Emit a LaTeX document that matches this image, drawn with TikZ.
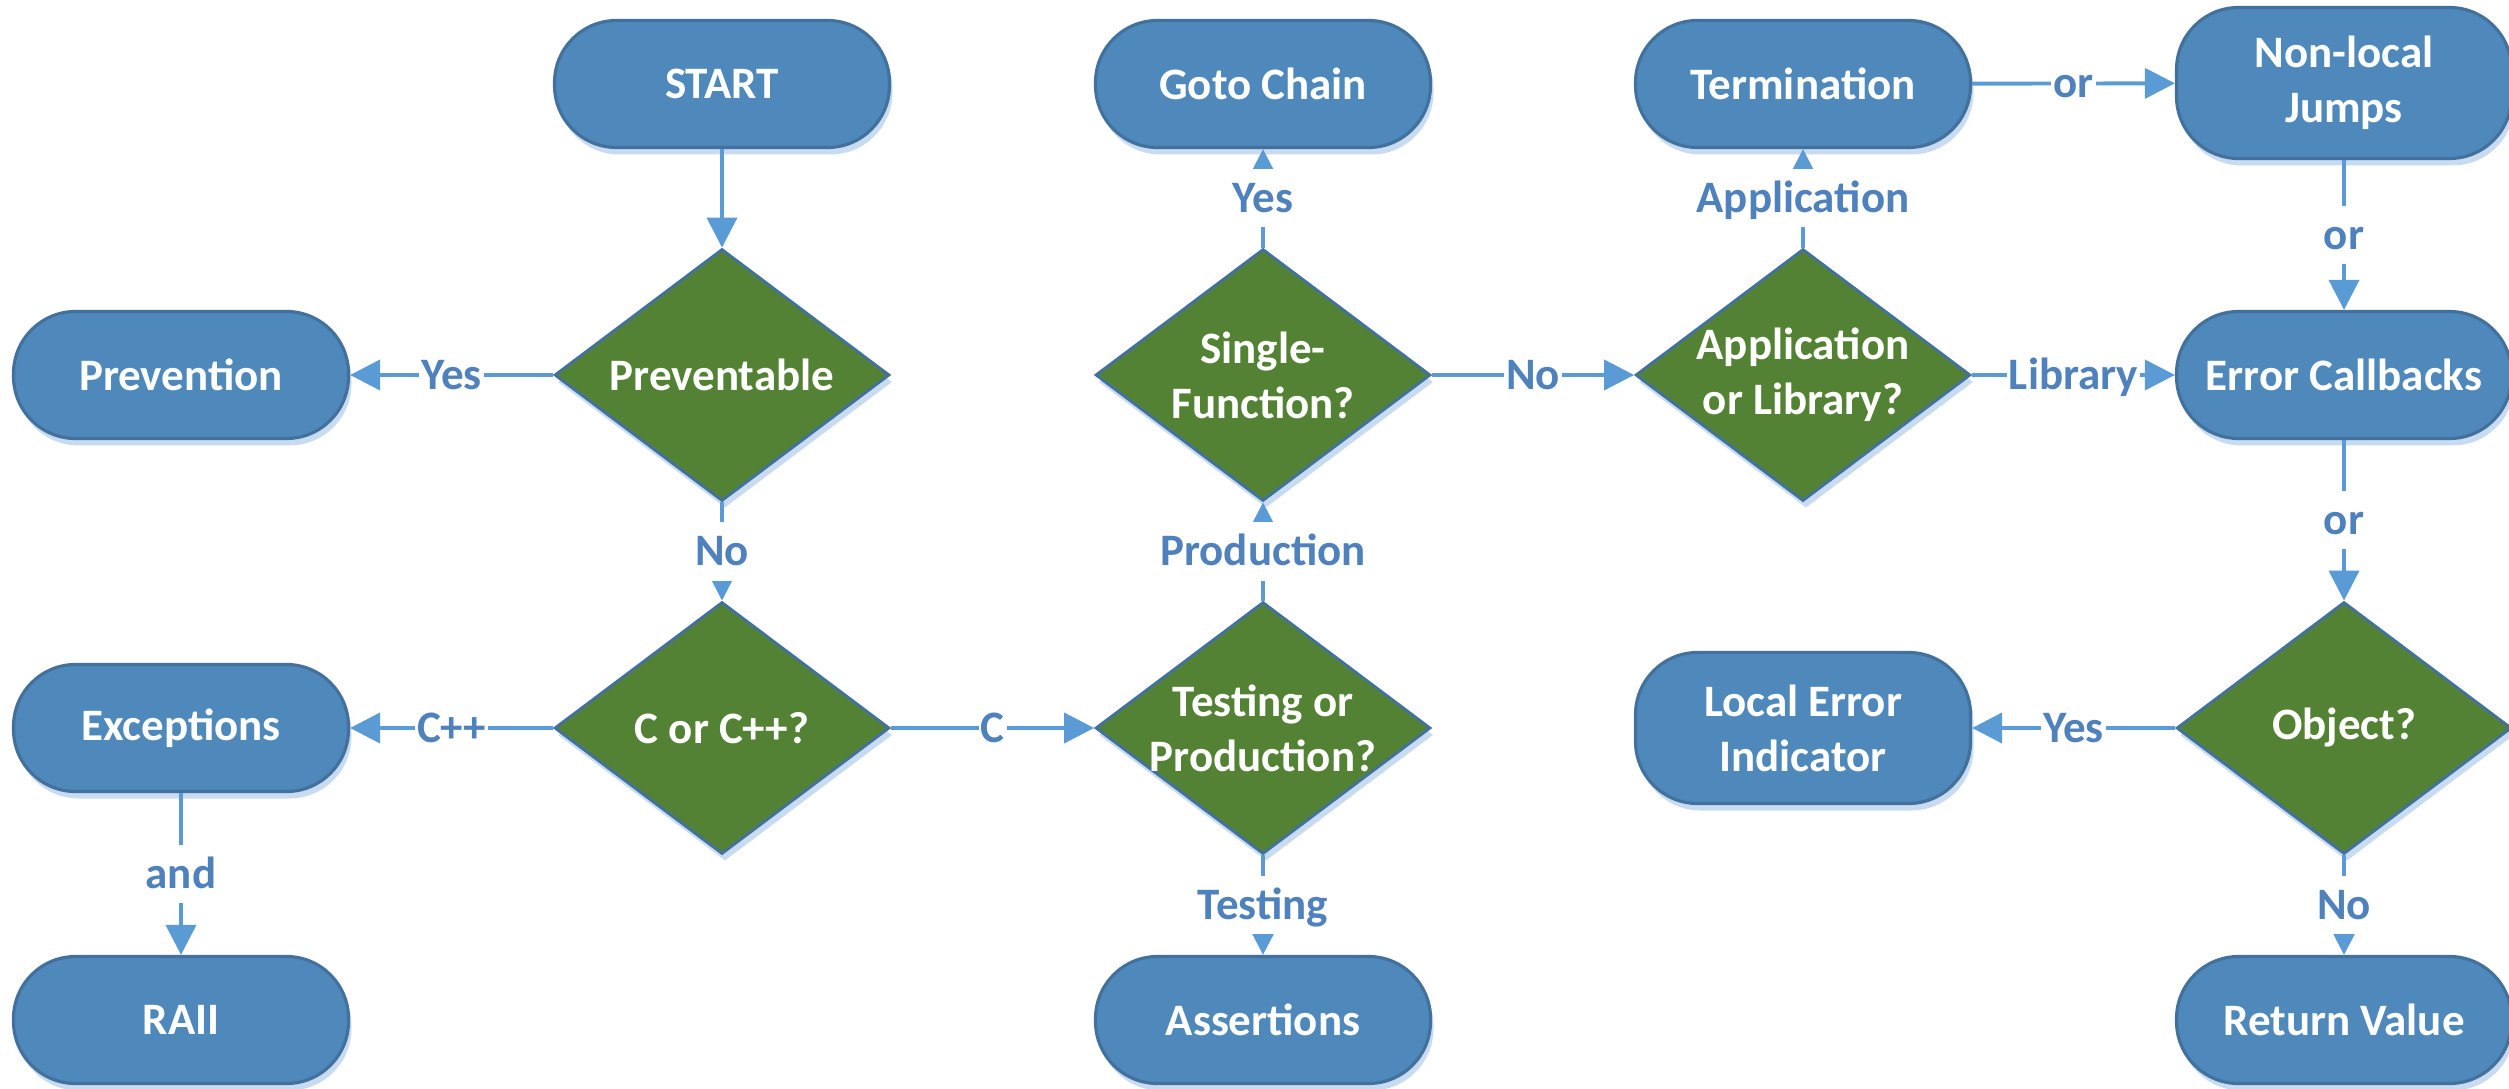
\documentclass[tikz,border=0pt]{standalone}
\usepackage{fontspec}
\setmainfont{Carlito}
\usetikzlibrary{shapes.geometric,shadows,arrows.meta}
\definecolor{boxfill}{RGB}{79,136,187}
\definecolor{boxline}{RGB}{65,113,156}
\definecolor{decfill}{RGB}{84,130,53}
\definecolor{arrowc}{RGB}{91,155,213}
\definecolor{labc}{RGB}{79,129,189}
\definecolor{shadc}{RGB}{200,219,240}
\begin{document}
\begin{tikzpicture}[
  mainfont/.style={font=\bfseries\fontsize{12.8}{15.6}\selectfont},
  myshadow/.style={drop shadow={shadow xshift=0.03cm, shadow yshift=-0.07cm, fill=shadc, opacity=1}},
  termbox/.style={rectangle, rounded corners=0.62cm, minimum width=3.35cm, minimum height=1.27cm,
    fill=boxfill, draw=boxline, line width=0.9pt, text=white, mainfont, align=center, inner sep=0pt, myshadow},
  tallbox/.style={minimum height=1.51cm},
  decbox/.style={diamond, minimum width=3.35cm, minimum height=2.52cm, fill=decfill, draw=boxline,
    line width=0.8pt, inner sep=0pt, myshadow},
  dectext/.style={text=white, mainfont, align=center, inner sep=0pt},
  conn/.style={draw=arrowc, line width=1.1pt, -{Triangle[length=0.3cm,width=0.3cm]}},
  lab/.style={fill=white, text=labc, mainfont, inner xsep=0.6pt, inner ysep=1pt, text height=0.40cm, text depth=0.11cm}
]
\useasboundingbox (0,0) rectangle (25.09,-10.89);
\node[termbox] (start) at (7.22,-0.84) {START};
\node[decbox, label={[dectext]center:Preventable}] (prevq) at (7.22,-3.75) {};
\node[termbox] (prevn) at (1.81,-3.75) {Prevention};
\node[decbox, label={[dectext]center:C or C++?}] (ccq) at (7.22,-7.28) {};
\node[termbox] (exc) at (1.81,-7.28) {Exceptions};
\node[termbox] (raii) at (1.81,-10.20) {RAII};
\node[decbox, label={[dectext]center:Testing or\\Production?}] (tpq) at (12.63,-7.28) {};
\node[termbox] (assert) at (12.63,-10.20) {Assertions};
\node[decbox, label={[dectext]center:Single-\\Function?}] (sfq) at (12.63,-3.75) {};
\node[termbox] (goto) at (12.63,-0.84) {Goto Chain};
\node[decbox, label={[dectext]center:Application\\or Library?}] (alq) at (18.03,-3.75) {};
\node[termbox] (termn) at (18.03,-0.84) {Termination};
\node[termbox,tallbox] (nlj) at (23.44,-0.83) {Non-local\\Jumps};
\node[termbox] (ecb) at (23.44,-3.75) {Error Callbacks};
\node[decbox, label={[dectext]center:Object?}] (objq) at (23.44,-7.28) {};
\node[termbox,tallbox] (lei) at (18.03,-7.28) {Local Error\\Indicator};
\node[termbox] (ret) at (23.44,-10.20) {Return Value};

\draw[conn] (start) -- (prevq);
\draw[conn] (prevq) -- node[lab]{Yes} (prevn);
\draw[conn] (prevq) -- node[lab]{No} (ccq);
\draw[conn] (ccq) -- node[lab]{C++} (exc);
\draw[conn] (ccq) -- node[lab]{C} (tpq);
\draw[conn] (exc) -- node[lab]{and} (raii);
\draw[conn] (tpq) -- node[lab]{Production} (sfq);
\draw[conn] (tpq) -- node[lab]{Testing} (assert);
\draw[conn] (sfq) -- node[lab]{Yes} (goto);
\draw[conn] (sfq) -- node[lab]{No} (alq);
\draw[conn] (alq) -- node[lab]{Application} (termn);
\draw[conn] (alq) -- node[lab]{Library} (ecb);
\draw[conn] (termn) -- node[lab]{or} (nlj);
\draw[conn] (nlj) -- node[lab]{or} (ecb);
\draw[conn] (ecb) -- node[lab]{or} (objq);
\draw[conn] (objq) -- node[lab]{Yes} (lei);
\draw[conn] (objq) -- node[lab]{No} (ret);
\end{tikzpicture}
\end{document}
